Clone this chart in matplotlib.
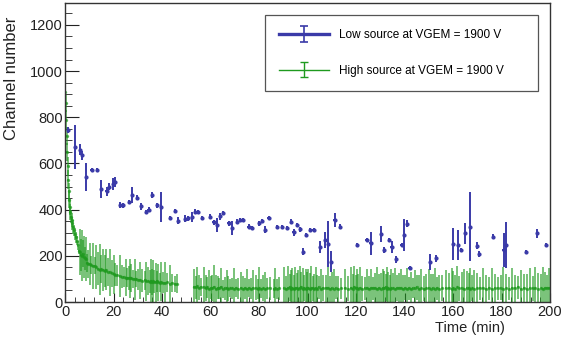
import numpy as np
import matplotlib
matplotlib.use('Agg')
import matplotlib.pyplot as plt
from matplotlib.ticker import MultipleLocator
from matplotlib.legend_handler import HandlerErrorbar
from matplotlib.container import ErrorbarContainer

plt.rcParams['font.family'] = ['Liberation Sans', 'DejaVu Sans']

# ---------------- data ----------------
low_label = "Low source at VGEM = 1900 V"
high_label = "High source at VGEM = 1900 V"

# Low source (blue)
blue_t = [1.4, 4.1, 6.2, 6.9, 8.7, 11.0, 13.4, 14.8, 17.2, 18.3,
          19.7, 20.6, 22.7, 24.0, 26.4, 27.6, 29.8, 31.4, 33.3, 34.5,
          36.0, 37.9, 39.6, 43.4, 45.5, 46.7, 49.6, 50.8, 52.3, 53.7,
          54.9, 56.5, 59.9, 61.3, 62.7, 64.0, 65.2, 67.5, 68.8, 70.9,
          72.3, 73.4, 75.7, 77.0, 79.9, 81.3, 82.6, 84.0, 87.5, 89.5,
          91.5, 93.2, 94.3, 95.7, 97.0, 98.2, 99.3, 101.2, 102.5, 105.1,
          107.4, 108.5, 109.8, 111.2, 113.6, 120.5, 124.4, 126.0, 130.2, 131.5,
          133.6, 134.7, 136.4, 138.8, 139.8, 141.2, 142.1, 150.5, 152.9, 160.0,
          162.1, 163.5, 165.0, 167.1, 169.8, 170.8, 176.7, 180.9, 181.8, 190.0,
          194.6, 198.3]
blue_v = [745, 672, 660, 635, 540, 572, 572, 490, 480, 500,
          512, 518, 420, 418, 433, 465, 452, 415, 390, 400,
          463, 418, 412, 364, 394, 352, 360, 362, 368, 391,
          390, 364, 370, 345, 332, 372, 385, 341, 320, 348,
          355, 355, 326, 320, 341, 350, 312, 363, 326, 326,
          320, 348, 302, 334, 315, 218, 290, 312, 312, 238,
          269, 250, 175, 355, 326, 247, 269, 254, 295, 225,
          269, 238, 186, 247, 290, 338, 147, 175, 190, 251,
          247, 225, 297, 326, 243, 208, 283, 225, 247, 218,
          297, 247]
blue_e = [15, 95, 25, 20, 60, 10, 10, 40, 20, 15,
          25, 22, 15, 10, 10, 35, 12, 15, 10, 10,
          12, 12, 65, 10, 10, 15, 15, 10, 20, 10,
          10, 10, 10, 10, 30, 15, 10, 10, 30, 10,
          10, 8, 10, 10, 10, 10, 15, 10, 8, 8,
          8, 10, 15, 10, 10, 15, 10, 10, 10, 25,
          35, 100, 45, 30, 10, 8, 10, 50, 35, 12,
          8, 25, 15, 10, 70, 15, 8, 35, 15, 70,
          65, 8, 45, 150, 15, 15, 10, 75, 100, 8,
          20, 10]

# High source (green)
green_t = [0.1, 0.3, 0.5, 0.7, 0.9, 1.1, 1.3, 1.5, 1.7, 1.9,
           2.1, 2.4, 2.7, 3.0, 3.3, 3.6, 4.0, 4.4, 4.8, 5.2,
           5.6, 6.1, 6.5, 6.9, 7.3, 7.7, 8.1, 8.6, 9.1, 9.6,
           10.2, 10.8, 11.5, 12.2, 12.9, 13.6, 14.3, 15.0, 15.7, 16.3,
           16.9, 17.6, 18.4, 19.2, 20.1, 20.8, 21.6, 22.5, 23.3, 24.2,
           25.0, 25.6, 26.2, 26.8, 27.4, 28.0, 28.7, 29.4, 30.2, 31.0,
           31.9, 32.8, 33.6, 34.4, 34.9, 35.4, 35.9, 36.4, 36.9, 37.4,
           37.9, 38.4, 39.0, 39.6, 40.4, 41.3, 42.2, 43.2, 44.2, 45.3,
           46.3,
           53.2, 53.9, 54.6, 55.3, 56.0, 57.2, 58.0, 58.7, 59.4, 60.1,
           60.8, 61.5, 62.2, 62.9, 63.6, 64.3, 65.0, 65.8, 66.6, 67.4,
           68.2, 69.0, 69.8, 70.6, 71.4, 72.5, 73.5, 74.3, 75.1, 75.9,
           76.7, 77.5, 78.6, 79.4, 80.2, 81.0, 81.8, 82.6, 83.5, 84.4,
           86.0, 86.8, 87.6, 88.4, 90.2, 91.2, 92.0, 92.6, 93.2, 93.8,
           94.4, 95.0, 95.6, 96.2, 96.8, 97.4, 98.0, 98.6, 99.2, 99.8,
           100.4, 101.0, 101.6, 102.2, 102.8, 103.4, 104.0, 104.6, 105.5, 106.3,
           107.6, 108.4, 109.2, 110.0, 110.8, 111.6, 112.6, 114.0, 115.5, 116.8,
           118.0, 118.6, 119.2, 119.8, 120.4, 121.0, 121.6, 122.4, 123.6, 124.6,
           125.4, 126.2, 127.0, 127.8, 128.6, 129.4, 130.2, 131.0, 131.6, 132.2,
           132.8, 133.4, 134.0, 134.6, 135.4, 136.2, 137.0, 137.8, 138.6, 139.4,
           140.2, 141.0, 141.8, 142.6, 143.4, 144.2, 145.0, 146.0, 147.0, 148.0,
           149.0, 150.0, 150.8, 151.6, 152.4, 153.4, 154.4, 155.6, 157.0, 158.4,
           159.4, 160.2, 161.0, 161.8, 162.6, 163.6, 164.6, 165.6, 166.4, 167.2,
           168.0, 168.8, 170.0, 171.2, 172.4, 173.6, 174.8, 176.0, 177.2, 178.4,
           179.6, 180.8, 182.0, 183.2, 184.4, 185.6, 186.8, 188.0, 189.2, 190.4,
           191.6, 192.8, 194.0, 195.2, 196.4, 197.2, 198.0, 198.8, 199.6]
green_v = [910, 860, 790, 720, 650, 590, 530, 480, 440, 410,
           390, 370, 355, 340, 325, 310, 295, 280, 265, 245,
           222, 215, 205, 200, 210, 195, 190, 185, 170, 165,
           165, 160, 155, 158, 150, 145, 140, 142, 138, 135,
           140, 130, 128, 124, 120, 118, 115, 112, 110, 108,
           105, 106, 104, 102, 104, 100, 98, 100, 96, 95,
           92, 94, 90, 92, 88, 90, 86, 92, 88, 85,
           90, 86, 84, 88, 84, 82, 85, 80, 82, 78,
           80,
           66, 64, 68, 62, 65, 63, 60, 64, 58, 62,
           60, 64, 58, 61, 59, 63, 57, 60, 62, 58,
           61, 59, 57, 60, 58, 62, 56, 60, 58, 61,
           57, 59, 62, 56, 60, 58, 61, 57, 59, 60,
           58, 62, 56, 59, 61, 57, 60, 63, 58, 61,
           56, 62, 59, 57, 60, 63, 58, 61, 56, 60,
           60, 57, 62, 59, 56, 61, 58, 63, 57, 60,
           59, 62, 56, 60, 58, 61, 57, 60, 62, 58,
           61, 57, 63, 59, 60, 56, 62, 58, 60, 61,
           57, 60, 59, 62, 58, 61, 56, 60, 59, 63,
           57, 61, 58, 60, 62, 56, 60, 59, 61, 57,
           62, 58, 60, 56, 61, 59, 63, 57, 60, 58,
           61, 59, 57, 62, 58, 60, 56, 61, 59, 62,
           58, 60, 57, 63, 59, 61, 56, 60, 62, 58,
           60, 57, 61, 59, 62, 58, 60, 56, 61, 59,
           62, 57, 60, 58, 61, 59, 63, 57, 60, 58,
           61, 59, 62, 57, 60, 58, 61, 59, 62]
green_e = [35, 35, 40, 40, 40, 40, 40, 35, 35, 35,
           35, 30, 30, 30, 30, 25, 25, 25, 20, 20,
           15, 100, 70, 110, 60, 90, 50, 95, 40, 60,
           90, 40, 100, 35, 95, 70, 110, 60, 90, 70,
           90, 60, 100, 60, 85, 50, 45, 90, 50, 45,
           80, 40, 50, 85, 60, 40, 90, 35, 45, 80,
           50, 40, 85, 60, 50, 95, 55, 90, 50, 85,
           45, 80, 40, 85, 45, 90, 40, 80, 40, 35,
           40,
           75, 50, 85, 55, 40, 90, 55, 45, 80, 50,
           55, 95, 60, 50, 45, 85, 40, 50, 75, 55,
           40, 45, 90, 40, 45, 70, 55, 45, 85, 40,
           45, 80, 55, 45, 90, 40, 55, 75, 45, 50,
           40, 85, 45, 50, 90, 55, 95, 60, 80, 85,
           60, 90, 65, 80, 95, 65, 90, 55, 85, 70,
           85, 70, 95, 55, 65, 90, 60, 50, 85, 55,
           60, 90, 55, 70, 85, 50, 55, 45, 80, 55,
           90, 65, 95, 60, 85, 65, 90, 55, 50, 80,
           55, 85, 50, 65, 95, 60, 70, 85, 75, 60,
           95, 70, 60, 85, 65, 90, 55, 65, 80, 60,
           55, 90, 50, 75, 45, 80, 55, 60, 85, 55,
           60, 85, 65, 60, 90, 50, 60, 55, 80, 65,
           90, 75, 60, 95, 55, 70, 85, 75, 65, 90,
           55, 80, 65, 50, 85, 60, 50, 90, 60, 50,
           55, 95, 60, 50, 85, 60, 50, 80, 60, 65,
           85, 55, 90, 70, 60, 95, 70, 60, 85]

x_ticks = [0, 20, 40, 60, 80, 100, 120, 140, 160, 180, 200]
y_ticks = [0, 200, 400, 600, 800, 1000, 1200]

# ---------------- style ----------------
blue = '#3a3aa8'
green = '#1f9a1f'

fig = plt.figure(figsize=(5.65, 3.47), dpi=100)
ax = fig.add_axes([65 / 565, 45 / 347, 485 / 565, 299 / 347])

ax.errorbar(green_t, green_v, yerr=green_e, xerr=0.3, fmt='o', ms=1.4,
            color=green, ecolor=green, elinewidth=1.3, alpha=0.65, capsize=0,
            zorder=2)
ax.errorbar(blue_t, blue_v, yerr=blue_e, xerr=0.5, fmt='o', ms=2.0,
            color=blue, ecolor=blue, elinewidth=1.4, capsize=0, zorder=3)

# legend proxies (NaN data, only used for the legend)
hb = ax.errorbar([np.nan], [np.nan], yerr=[1], fmt='-', color=blue,
                 lw=2.4, ecolor=blue, elinewidth=1.2, capsize=3, capthick=1.2)
hg = ax.errorbar([np.nan], [np.nan], yerr=[1], fmt='-', color=green,
                 lw=1.0, ecolor=green, elinewidth=1.0, capsize=3, capthick=1.0)

leg = ax.legend([hb, hg], [low_label, high_label], loc='upper left',
                bbox_to_anchor=(0.412, 0.0, 0.563, 0.960), mode='expand',
                borderaxespad=0, fontsize=8.5, handlelength=4.2,
                handletextpad=0.9, labelspacing=2.0, borderpad=1.2,
                fancybox=False, edgecolor='#555555', framealpha=1,
                handler_map={ErrorbarContainer: HandlerErrorbar(yerr_size=0.65)})
leg.get_frame().set_linewidth(0.9)

ax.set_xlim(0, 200)
ax.set_ylim(0, 1295)
ax.set_xticks(x_ticks)
ax.set_yticks(y_ticks)
ax.xaxis.set_minor_locator(MultipleLocator(4))
ax.yaxis.set_minor_locator(MultipleLocator(50))
ax.tick_params(axis='both', which='both', direction='in', labelsize=10.5,
               colors='#222222')
ax.tick_params(axis='x', which='major', length=6.5, pad=2.5)
ax.tick_params(axis='x', which='minor', length=3.3)
ax.tick_params(axis='y', which='major', length=10, pad=1.5)
ax.tick_params(axis='y', which='minor', length=5)
for s in ax.spines.values():
    s.set_linewidth(1.0)
    s.set_color('#333333')

fig.text(12 / 565, 1 - 17 / 347, 'Channel number', rotation=90,
         ha='center', va='top', fontsize=12, color='#222222')
fig.text(505 / 565, 1 - 328 / 347, 'Time (min)', ha='right', va='center',
         fontsize=10.5, color='#222222')

fig.savefig('out.png', dpi=100)
